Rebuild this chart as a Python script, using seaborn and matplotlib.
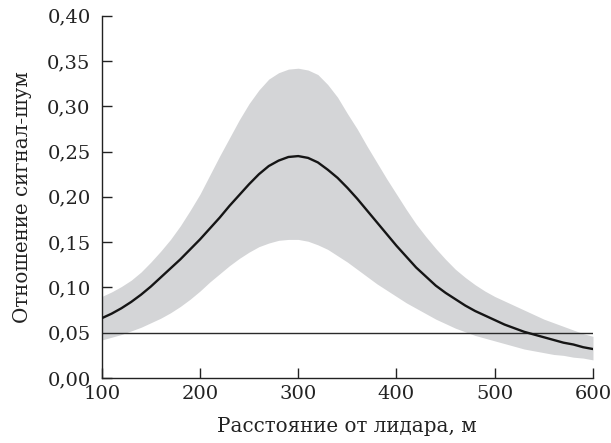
import numpy as np
import pandas as pd
import matplotlib
matplotlib.use("Agg")
import matplotlib.pyplot as plt
import seaborn as sns

# ==========================================
# DATA
# ==========================================

distance = [100, 110, 120, 130, 140, 150, 160, 170, 180, 190,
            200, 210, 220, 230, 240, 250, 260, 270, 280, 290,
            300, 310, 320, 330, 340, 350, 360, 370, 380, 390,
            400, 410, 420, 430, 440, 450, 460, 470, 480, 490,
            500, 510, 520, 530, 540, 550, 560, 570, 580, 590, 600]

snr_mean = [0.066, 0.071, 0.077, 0.084, 0.092, 0.101, 0.111, 0.121, 0.131, 0.142,
            0.153, 0.165, 0.177, 0.190, 0.202, 0.214, 0.225, 0.234, 0.240, 0.244,
            0.245, 0.243, 0.238, 0.230, 0.221, 0.210, 0.198, 0.185, 0.172, 0.159,
            0.146, 0.134, 0.122, 0.112, 0.102, 0.094, 0.087, 0.080, 0.074, 0.069,
            0.064, 0.059, 0.055, 0.051, 0.048, 0.045, 0.042, 0.039, 0.037, 0.034,
            0.032]

snr_upper = [0.090, 0.095, 0.101, 0.108, 0.117, 0.128, 0.140, 0.153, 0.168, 0.185,
             0.203, 0.224, 0.245, 0.265, 0.285, 0.303, 0.318, 0.330, 0.337, 0.341,
             0.342, 0.340, 0.335, 0.324, 0.310, 0.292, 0.275, 0.256, 0.238, 0.220,
             0.203, 0.186, 0.170, 0.156, 0.143, 0.131, 0.120, 0.111, 0.103, 0.096,
             0.090, 0.085, 0.080, 0.075, 0.070, 0.065, 0.061, 0.057, 0.053, 0.049,
             0.046]

snr_lower = [0.042, 0.045, 0.048, 0.052, 0.056, 0.061, 0.066, 0.072, 0.079, 0.087,
             0.096, 0.106, 0.115, 0.124, 0.132, 0.139, 0.145, 0.149, 0.152, 0.153,
             0.153, 0.151, 0.147, 0.142, 0.135, 0.128, 0.120, 0.112, 0.104, 0.097,
             0.090, 0.083, 0.077, 0.071, 0.065, 0.060, 0.055, 0.051, 0.047, 0.044,
             0.041, 0.038, 0.035, 0.032, 0.030, 0.028, 0.026, 0.025, 0.023, 0.022,
             0.020]

threshold = 0.05

x_ticks = [100, 200, 300, 400, 500, 600]
y_ticks = [0.00, 0.05, 0.10, 0.15, 0.20, 0.25, 0.30, 0.35, 0.40]
y_tick_labels = ["0,00", "0,05", "0,10", "0,15", "0,20",
                 "0,25", "0,30", "0,35", "0,40"]

df = pd.DataFrame({
    "distance": distance,
    "mean": snr_mean,
    "upper": snr_upper,
    "lower": snr_lower,
})

# ==========================================
# SETTINGS
# ==========================================

sns.set_theme(style="ticks")
plt.rcParams["font.family"] = ["DejaVu Serif"]
plt.rcParams["font.size"] = 14

# ==========================================
# PLOT
# ==========================================

fig = plt.figure(figsize=(6.11, 4.43), dpi=100)
ax = fig.add_axes([0.1665, 0.1467, 0.804, 0.8179])

# spread of the signal-to-noise ratio
ax.fill_between(
    df["distance"],
    df["lower"],
    df["upper"],
    color="#d4d5d7",
    linewidth=0,
    zorder=1
)

# threshold line
ax.plot(
    [distance[0], distance[-1]],
    [threshold, threshold],
    color="#2a2a2a",
    lw=1.0,
    zorder=2
)

sns.lineplot(
    data=df,
    x="distance",
    y="mean",
    color="#151515",
    lw=1.7,
    ax=ax,
    zorder=3
)

ax.set_xlim(100, 600)
ax.set_ylim(0, 0.40)

ax.set_xticks(x_ticks)
ax.set_xticklabels([str(t) for t in x_ticks])
ax.set_yticks(y_ticks)
ax.set_yticklabels(y_tick_labels)

for side in ["top", "right"]:
    ax.spines[side].set_visible(False)
for side in ["left", "bottom"]:
    ax.spines[side].set_linewidth(1.0)
    ax.spines[side].set_color("#222222")

ax.tick_params(axis="both", direction="in", length=7, width=1.0,
               colors="#222222", labelsize=14)
ax.tick_params(axis="y", pad=8)
ax.tick_params(axis="x", pad=5)

ax.set_xlabel("Расстояние от лидара, м", fontsize=14.3, color="#222222",
              labelpad=10)
ax.set_ylabel("Отношение сигнал-шум", fontsize=14.3, color="#222222",
              labelpad=11)

fig.savefig("out.png", dpi=100)
